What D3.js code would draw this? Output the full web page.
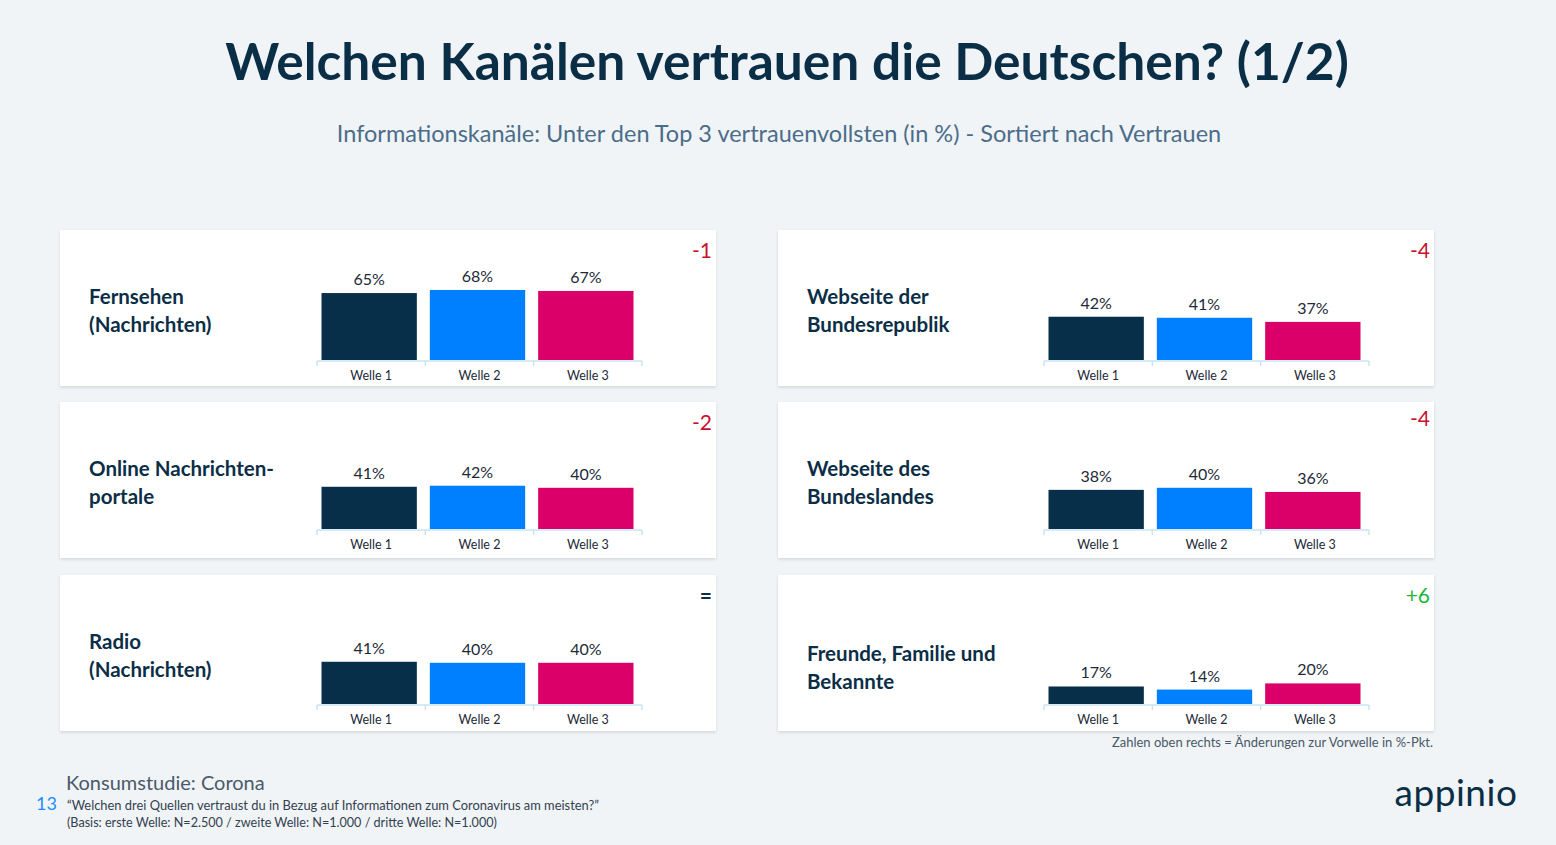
<!DOCTYPE html>
<html><head><meta charset="utf-8">
<script src="https://cdn.jsdelivr.net/npm/d3@7"></script>
<style>
html,body{margin:0;padding:0;background:#f0f4f7;}
svg{display:block;font-family:Lato,"Open Sans",sans-serif;}
</style></head>
<body>
<svg id="chart" width="1556" height="845"></svg>
<script>
// ---- data ----
const categories = ["Fernsehen\n(Nachrichten)", "Online Nachrichten-\nportale", "Radio\n(Nachrichten)",
                    "Webseite der\nBundesrepublik", "Webseite des\nBundeslandes", "Freunde, Familie und\nBekannte"];
const waves = ["Welle 1", "Welle 2", "Welle 3"];
const welle1 = [65, 41, 41, 42, 38, 17];
const welle2 = [68, 42, 40, 41, 40, 14];
const welle3 = [67, 40, 40, 37, 36, 20];
const changes = ["-1", "-2", "=", "-4", "-4", "+6"];
const changeType = ["neg", "neg", "eq", "neg", "neg", "pos"];

const title = "Welchen Kanälen vertrauen die Deutschen? (1/2)";
const subtitle = "Informationskanäle: Unter den Top 3 vertrauenvollsten (in %) - Sortiert nach Vertrauen";
const note = "Zahlen oben rechts = Änderungen zur Vorwelle in %-Pkt.";
const studyName = "Konsumstudie: Corona";
const pageNo = "13";
const question = "“Welchen drei Quellen vertraust du in Bezug auf Informationen zum Coronavirus am meisten?”";
const basis = "(Basis: erste Welle: N=2.500 / zweite Welle: N=1.000 / dritte Welle: N=1.000)";

// ---- layout ----
const svg = d3.select("#chart");
const colors = d3.scaleOrdinal().domain(waves).range(["#072f4a", "#007fff", "#db0069"]);
const changeColor = {neg: "#c8102e", pos: "#1fb53a", eq: "#072f4a"};
const panelW = 656, panelH = 156;
const colX = [60, 778];
const rowY = [230, 402, 575];
const baseOffs = [130, 127, 129];
const axisX0 = [257, 266];
const axisW = 325;
const labelShift = [0, 0, 0, 0, 0, 12];
const changeDy = [[0, 0, 0], [0, -4, 0]];

svg.append("text").attr("x", 787).attr("y", 80).attr("text-anchor", "middle")
  .attr("font-size", 51.5).attr("font-weight", 700).attr("fill", "#0b2e47").text(title);
svg.append("text").attr("x", 779).attr("y", 142).attr("text-anchor", "middle")
  .attr("font-size", 23.5).attr("fill", "#4b6d8a").text(subtitle);

const y = d3.scaleLinear().domain([0, 100]).range([0, 103]);
const defs = svg.append("defs");
const f = defs.append("filter").attr("id", "sh").attr("x", "-5%").attr("y", "-5%").attr("width", "110%").attr("height", "115%");
f.append("feDropShadow").attr("dx", 0).attr("dy", 1.5).attr("stdDeviation", 1.5).attr("flood-color", "#000").attr("flood-opacity", 0.12);

categories.forEach((cat, i) => {
  const col = Math.floor(i / 3), row = i % 3;
  const g = svg.append("g").attr("transform", `translate(${colX[col]},${rowY[row]})`);
  g.append("rect").attr("width", panelW).attr("height", panelH).attr("fill", "#fff").attr("filter", "url(#sh)");

  const lines = cat.split("\n");
  g.append("text").attr("x", 29).attr("y", 74 + labelShift[i])
    .attr("font-size", 20.5).attr("font-weight", 700).attr("fill", "#0b2e47")
    .selectAll("tspan").data(lines).join("tspan")
    .attr("x", 29).attr("dy", (d, k) => k === 0 ? 0 : 27.5).text(d => d);

  const x = d3.scaleBand().domain(waves).range([axisX0[col], axisX0[col] + axisW]).paddingInner(0.12).paddingOuter(0.06);
  const vals = [welle1[i], welle2[i], welle3[i]];
  const data = waves.map((w, k) => ({w, v: vals[k]}));
  const base = baseOffs[row];

  g.selectAll("rect.bar").data(data).join("rect").attr("class", "bar")
    .attr("x", d => x(d.w) - 2).attr("width", x.bandwidth())
    .attr("y", d => base - y(d.v)).attr("height", d => y(d.v))
    .attr("fill", d => colors(d.w));

  g.selectAll("text.val").data(data).join("text").attr("class", "val")
    .attr("x", d => x(d.w) - 2 + x.bandwidth() / 2).attr("y", d => base - y(d.v) - 8)
    .attr("text-anchor", "middle").attr("font-size", 16).attr("fill", "#1c2a38")
    .text(d => d.v + "%");

  const xa = d3.scaleBand().domain(waves).range([axisX0[col], axisX0[col] + axisW]);
  const axis = g.append("g").attr("transform", `translate(0,${base + 1})`)
    .call(d3.axisBottom(xa).tickSize(0).tickPadding(10).tickSizeOuter(0));
  axis.select(".domain").remove();
  axis.append("line").attr("x1", axisX0[col]).attr("x2", axisX0[col] + axisW).attr("stroke", "#c9e3f5").attr("stroke-width", 1.5);
  const tickXs = [0, 1, 2, 3].map(k => axisX0[col] + k * xa.step());
  axis.selectAll("line.tk").data(tickXs).join("line").attr("class", "tk")
    .attr("x1", d => d).attr("x2", d => d).attr("y1", 0).attr("y2", 5)
    .attr("stroke", "#c9e3f5").attr("stroke-width", 1.5);
  axis.selectAll(".tick text").attr("font-size", 12.5).attr("fill", "#1c2a38").attr("font-family", "Lato, sans-serif");

  g.append("text").attr("x", panelW - 4).attr("y", 28 + changeDy[col][row])
    .attr("text-anchor", "end").attr("font-size", 21)
    .attr("font-weight", changeType[i] === "eq" ? 700 : 400)
    .attr("fill", changeColor[changeType[i]]).text(changes[i]);
});

svg.append("text").attr("x", 1433).attr("y", 747).attr("text-anchor", "end")
  .attr("font-size", 13).attr("fill", "#4a5866").text(note);

svg.append("text").attr("x", 66).attr("y", 790).attr("font-size", 20).attr("fill", "#4b5a69").text(studyName);
svg.append("text").attr("x", 36).attr("y", 810).attr("font-size", 18).attr("fill", "#1f8cff").text(pageNo);
svg.append("text").attr("x", 67).attr("y", 810).attr("font-size", 12.9).attr("fill", "#33414f").text(question);
svg.append("text").attr("x", 67).attr("y", 827).attr("font-size", 12.6).attr("fill", "#33414f").text(basis);
svg.append("text").attr("x", 1456).attr("y", 806).attr("text-anchor", "middle")
  .attr("font-size", 37).attr("font-weight", 400).attr("fill", "#0b2e47").attr("letter-spacing", 0.5).text("appinio");
</script>
</body></html>
